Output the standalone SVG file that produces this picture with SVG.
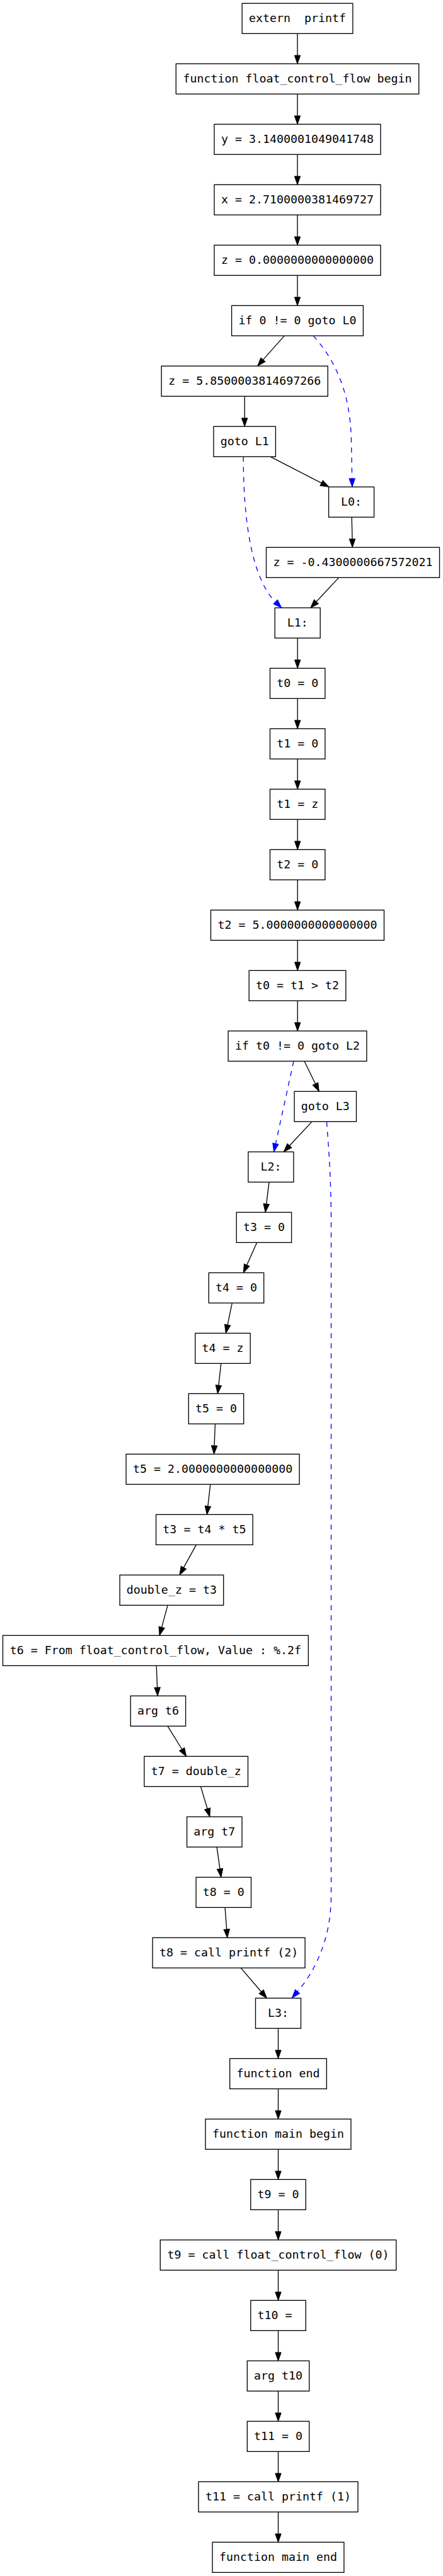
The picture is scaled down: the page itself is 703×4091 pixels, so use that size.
<svg xmlns="http://www.w3.org/2000/svg" width="703" height="4091" viewBox="0 0 703 4091">
<style>
.n rect{fill:#fff;stroke:#000;stroke-width:1.33}
.n text{font-family:"DejaVu Sans Mono","Liberation Mono",monospace;font-size:18.3px;text-anchor:middle;fill:#000;white-space:pre}
.e path{fill:none;stroke:#000;stroke-width:1.33}
.e path.d{stroke:#0000ff;stroke-dasharray:8,8}
</style>
<defs>
<marker id="ab" markerUnits="userSpaceOnUse" markerWidth="14" markerHeight="10" refX="0" refY="5" orient="auto" overflow="visible"><path d="M0,0.33 L13.33,5 L0,9.67 z" fill="#000" stroke="#000" stroke-width="1"/></marker>
<marker id="au" markerUnits="userSpaceOnUse" markerWidth="14" markerHeight="10" refX="0" refY="5" orient="auto" overflow="visible"><path d="M0,0.33 L13.33,5 L0,9.67 z" fill="#0000ff" stroke="#0000ff" stroke-width="1"/></marker>
</defs>
<rect width="703" height="4091" fill="#fff"/>
<g id="edges" class="e">
<path marker-end="url(#ab)" d="M472,53.33 V88"/>
<path marker-end="url(#ab)" d="M472,149.33 V184"/>
<path marker-end="url(#ab)" d="M472,245.33 V280"/>
<path marker-end="url(#ab)" d="M472,341.33 V376"/>
<path marker-end="url(#ab)" d="M472,437.33 V472"/>
<path marker-end="url(#ab)" d="M451.2,533.33 L417.45,571.33"/>
<path class="d" marker-end="url(#au)" d="M497.3,533.33 C530,570 556,620 557.5,700 L558.7,760"/>
<path marker-end="url(#ab)" d="M388.2,629.33 V664"/>
<path marker-end="url(#ab)" d="M429.2,725.33 L510.2,767.2"/>
<path class="d" marker-end="url(#au)" d="M386.2,725.33 C386.2,870 412.3,931.3 437.2,955.9"/>
<path marker-end="url(#ab)" d="M558.2,821.33 L559,856"/>
<path marker-end="url(#ab)" d="M537.6,917.33 L501.9,955.6"/>
<path marker-end="url(#ab)" d="M472.2,1013.33 V1048"/>
<path marker-end="url(#ab)" d="M472.2,1109.33 V1144"/>
<path marker-end="url(#ab)" d="M472.2,1205.33 V1240"/>
<path marker-end="url(#ab)" d="M472.2,1301.33 V1336"/>
<path marker-end="url(#ab)" d="M472.2,1397.33 V1432"/>
<path marker-end="url(#ab)" d="M472.2,1493.33 V1528"/>
<path marker-end="url(#ab)" d="M472.2,1589.33 V1624"/>
<path marker-end="url(#ab)" d="M483,1685.33 L500.5,1721.3"/>
<path class="d" marker-end="url(#au)" d="M466,1685.33 L437.4,1816.3"/>
<path marker-end="url(#ab)" d="M495,1781.33 L459.4,1819.5"/>
<path class="d" marker-end="url(#au)" d="M518.4,1781.33 C522,1830 525.5,1870 525.5,1950 L525.5,3010 C525.5,3080 500,3130 472,3162.9"/>
<path marker-end="url(#ab)" d="M427,1877.33 L422.7,1912.1"/>
<path marker-end="url(#ab)" d="M407.7,1973.33 L391.7,2009.1"/>
<path marker-end="url(#ab)" d="M368.3,2069.33 L361.1,2104.2"/>
<path marker-end="url(#ab)" d="M350.8,2165.33 L346.9,2200.1"/>
<path marker-end="url(#ab)" d="M341.4,2261.33 L340.1,2296"/>
<path marker-end="url(#ab)" d="M333.8,2357.33 L329.9,2392.1"/>
<path marker-end="url(#ab)" d="M311.4,2453.33 L291.4,2489.6"/>
<path marker-end="url(#ab)" d="M266.1,2549.33 L256.6,2584.4"/>
<path marker-end="url(#ab)" d="M248.2,2645.33 L249.6,2680"/>
<path marker-end="url(#ab)" d="M266.1,2741.33 L288.7,2778"/>
<path marker-end="url(#ab)" d="M318.5,2837.33 L329.1,2872.5"/>
<path marker-end="url(#ab)" d="M344.1,2933.33 L349,2968.1"/>
<path marker-end="url(#ab)" d="M357.1,3029.33 L359.7,3064"/>
<path marker-end="url(#ab)" d="M382.2,3125.33 L414.7,3163.2"/>
<path marker-end="url(#ab)" d="M441.5,3221.33 V3256"/>
<path marker-end="url(#ab)" d="M441.5,3317.33 V3352"/>
<path marker-end="url(#ab)" d="M441.5,3413.33 V3448"/>
<path marker-end="url(#ab)" d="M441.5,3509.33 V3544"/>
<path marker-end="url(#ab)" d="M441.5,3605.33 V3640"/>
<path marker-end="url(#ab)" d="M441.5,3701.33 V3736"/>
<path marker-end="url(#ab)" d="M441.5,3797.33 V3832"/>
<path marker-end="url(#ab)" d="M441.5,3893.33 V3928"/>
<path marker-end="url(#ab)" d="M441.5,3989.33 V4024"/>
</g>
<g id="n0" class="n"><rect x="384.15" y="5.33" width="175.7" height="48"/><text x="472" y="34.93" xml:space="preserve">extern  printf</text></g>
<g id="n1" class="n"><rect x="279.3" y="101.33" width="385.4" height="48"/><text x="472" y="130.93">function float_control_flow begin</text></g>
<g id="n2" class="n"><rect x="340" y="197.33" width="264" height="48"/><text x="472" y="226.93">y = 3.1400001049041748</text></g>
<g id="n3" class="n"><rect x="340" y="293.33" width="264" height="48"/><text x="472" y="322.93">x = 2.7100000381469727</text></g>
<g id="n4" class="n"><rect x="340" y="389.33" width="264" height="48"/><text x="472" y="418.93">z = 0.0000000000000000</text></g>
<g id="n5" class="n"><rect x="367.6" y="485.33" width="208.8" height="48"/><text x="472" y="514.93">if 0 != 0 goto L0</text></g>
<g id="n6" class="n"><rect x="256.2" y="581.33" width="264" height="48"/><text x="388.2" y="610.93">z = 5.8500003814697266</text></g>
<g id="n7" class="n"><rect x="339" y="677.33" width="98.4" height="48"/><text x="388.2" y="706.93">goto L1</text></g>
<g id="n8" class="n"><rect x="521.6" y="773.33" width="72" height="48"/><text x="557.6" y="802.93">L0:</text></g>
<g id="n9" class="n"><rect x="422.5" y="869.33" width="275" height="48"/><text x="560" y="898.93">z = -0.4300000667572021</text></g>
<g id="n10" class="n"><rect x="436.2" y="965.33" width="72" height="48"/><text x="472.2" y="994.93">L1:</text></g>
<g id="n11" class="n"><rect x="428.5" y="1061.33" width="87.4" height="48"/><text x="472.2" y="1090.93">t0 = 0</text></g>
<g id="n12" class="n"><rect x="428.5" y="1157.33" width="87.4" height="48"/><text x="472.2" y="1186.93">t1 = 0</text></g>
<g id="n13" class="n"><rect x="428.5" y="1253.33" width="87.4" height="48"/><text x="472.2" y="1282.93">t1 = z</text></g>
<g id="n14" class="n"><rect x="428.5" y="1349.33" width="87.4" height="48"/><text x="472.2" y="1378.93">t2 = 0</text></g>
<g id="n15" class="n"><rect x="334.5" y="1445.33" width="275" height="48"/><text x="472" y="1474.93">t2 = 5.0000000000000000</text></g>
<g id="n16" class="n"><rect x="395.2" y="1541.33" width="153.6" height="48"/><text x="472" y="1570.93">t0 = t1 &gt; t2</text></g>
<g id="n17" class="n"><rect x="362.1" y="1637.33" width="219.8" height="48"/><text x="472" y="1666.93">if t0 != 0 goto L2</text></g>
<g id="n18" class="n"><rect x="467.1" y="1733.33" width="98.4" height="48"/><text x="516.3" y="1762.93">goto L3</text></g>
<g id="n19" class="n"><rect x="393.9" y="1829.33" width="72" height="48"/><text x="429.9" y="1858.93">L2:</text></g>
<g id="n20" class="n"><rect x="375.2" y="1925.33" width="87.4" height="48"/><text x="418.9" y="1954.93">t3 = 0</text></g>
<g id="n21" class="n"><rect x="331.3" y="2021.33" width="87.4" height="48"/><text x="375" y="2050.93">t4 = 0</text></g>
<g id="n22" class="n"><rect x="309.8" y="2117.33" width="87.4" height="48"/><text x="353.5" y="2146.93">t4 = z</text></g>
<g id="n23" class="n"><rect x="299.3" y="2213.33" width="87.4" height="48"/><text x="343" y="2242.93">t5 = 0</text></g>
<g id="n24" class="n"><rect x="200.1" y="2309.33" width="275" height="48"/><text x="337.6" y="2338.93">t5 = 2.0000000000000000</text></g>
<g id="n25" class="n"><rect x="247.6" y="2405.33" width="153.6" height="48"/><text x="324.4" y="2434.93">t3 = t4 * t5</text></g>
<g id="n26" class="n"><rect x="190.1" y="2501.33" width="164.6" height="48"/><text x="272.4" y="2530.93">double_z = t3</text></g>
<g id="n27" class="n"><rect x="4.5" y="2597.33" width="484.8" height="48"/><text x="246.9" y="2626.93">t6 = From float_control_flow, Value : %.2f</text></g>
<g id="n28" class="n"><rect x="207.2" y="2693.33" width="87.4" height="48"/><text x="250.9" y="2722.93">arg t6</text></g>
<g id="n29" class="n"><rect x="228.9" y="2789.33" width="164.6" height="48"/><text x="311.2" y="2818.93">t7 = double_z</text></g>
<g id="n30" class="n"><rect x="296.6" y="2885.33" width="87.4" height="48"/><text x="340.3" y="2914.93">arg t7</text></g>
<g id="n31" class="n"><rect x="311.1" y="2981.33" width="87.4" height="48"/><text x="354.8" y="3010.93">t8 = 0</text></g>
<g id="n32" class="n"><rect x="242.15" y="3077.33" width="241.9" height="48"/><text x="363.1" y="3106.93">t8 = call printf (2)</text></g>
<g id="n33" class="n"><rect x="405.5" y="3173.33" width="72" height="48"/><text x="441.5" y="3202.93">L3:</text></g>
<g id="n34" class="n"><rect x="364.7" y="3269.33" width="153.6" height="48"/><text x="441.5" y="3298.93">function end</text></g>
<g id="n35" class="n"><rect x="326.05" y="3365.33" width="230.9" height="48"/><text x="441.5" y="3394.93">function main begin</text></g>
<g id="n36" class="n"><rect x="397.8" y="3461.33" width="87.4" height="48"/><text x="441.5" y="3490.93">t9 = 0</text></g>
<g id="n37" class="n"><rect x="254.3" y="3557.33" width="374.4" height="48"/><text x="441.5" y="3586.93">t9 = call float_control_flow (0)</text></g>
<g id="n38" class="n"><rect x="397.8" y="3653.33" width="87.4" height="48"/><text x="436" y="3682.93">t10 =</text></g>
<g id="n39" class="n"><rect x="392.3" y="3749.33" width="98.4" height="48"/><text x="441.5" y="3778.93">arg t10</text></g>
<g id="n40" class="n"><rect x="392.3" y="3845.33" width="98.4" height="48"/><text x="441.5" y="3874.93">t11 = 0</text></g>
<g id="n41" class="n"><rect x="315" y="3941.33" width="253" height="48"/><text x="441.5" y="3970.93">t11 = call printf (1)</text></g>
<g id="n42" class="n"><rect x="337.1" y="4037.33" width="208.8" height="48"/><text x="441.5" y="4066.93">function main end</text></g>
</svg>
